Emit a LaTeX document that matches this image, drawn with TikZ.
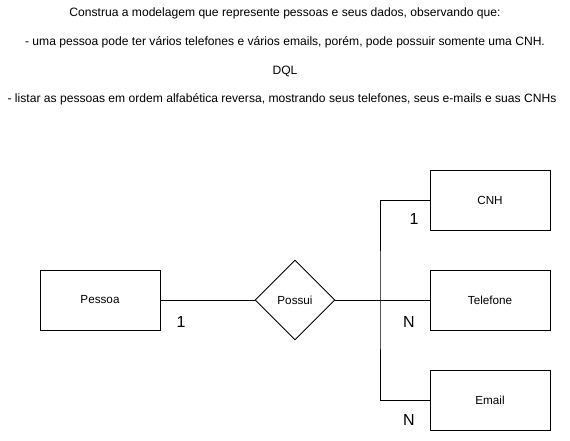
\documentclass[tikz,border=0pt]{standalone}
\usepackage{fontspec}
\setmainfont{Liberation Sans}
\usetikzlibrary{shapes.geometric}
\begin{document}
\begin{tikzpicture}[x=1pt,y=-1pt,
  ent/.style={draw,line width=0.9pt,minimum width=120pt,minimum height=60pt,inner sep=0pt,font=\fontsize{11.7}{13}\selectfont},
  rel/.style={draw,diamond,line width=0.9pt,minimum width=80pt,minimum height=80pt,inner sep=0pt,aspect=1,font=\fontsize{11.7}{13}\selectfont},
  txt/.style={font=\fontsize{12.1}{14}\selectfont,inner sep=0pt},
  card/.style={font=\fontsize{16}{18}\selectfont,inner sep=0pt},
  conn/.style={line width=0.9pt}]
\useasboundingbox[fill=white] (0,0) rectangle (570,440);
\node[txt] (t1) at (285,13) {Construa a modelagem que represente pessoas e seus dados, observando que:};
\node[txt] (t2) at (285,42) {- uma pessoa pode ter vários telefones e vários emails, porém, pode possuir somente uma CNH.};
\node[txt] (t3) at (285,71) {DQL};
\node[txt] (t4) at (282,99) {- listar as pessoas em ordem alfabética reversa, mostrando seus telefones, seus e-mails e suas CNHs};
\node[ent] (pessoa) at (100,300) {Pessoa};
\node[rel] (possui) at (295,300) {Possui};
\node[ent] (cnh) at (490,200) {CNH};
\node[ent] (tel) at (490,300) {Telefone};
\node[ent] (email) at (490,400) {Email};
\coordinate (j) at (380,300);
\draw[conn] (pessoa.east) -- (possui.west);
\draw[conn] (possui.east) -- (tel.west);
\draw[conn] (cnh.west) -| (j) |- (email.west);
\node[card] (c1) at (181,322) {1};
\node[card] (c2) at (414,219) {1};
\node[card] (c3) at (409,322) {N};
\node[card] (c4) at (409,420) {N};
\end{tikzpicture}
\end{document}
